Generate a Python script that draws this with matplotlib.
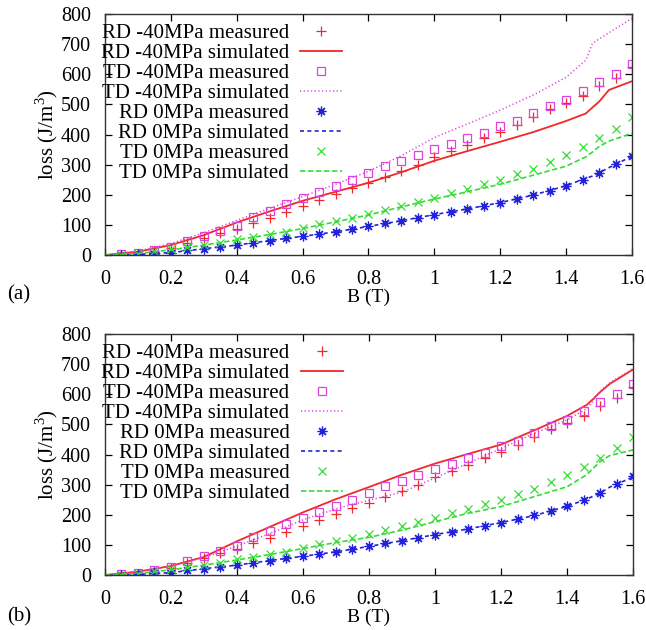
import matplotlib.pyplot as plt

plt.rcParams['font.family'] = ['Liberation Serif', 'DejaVu Serif']
plt.rcParams['mathtext.fontset'] = 'custom'
plt.rcParams['mathtext.rm'] = 'Liberation Serif'

# measured loss, same samples in both panels
B_meas = [0.05, 0.1, 0.15, 0.2, 0.25, 0.3, 0.35, 0.4, 0.45, 0.5, 0.55, 0.6, 0.65, 0.7, 0.75, 0.8,
          0.85, 0.9, 0.95, 1.0, 1.05, 1.1, 1.15, 1.2, 1.25, 1.3, 1.35, 1.4, 1.45, 1.5, 1.55, 1.6]
rd40_meas = [0, 4, 14, 23, 40, 56, 72, 86, 106, 122, 144, 162, 183, 203, 222, 240,
             260, 278, 298, 325, 345, 365, 387, 409, 431, 459, 485, 504, 528, 561, 587, 623]
td40_meas = [2, 6, 17, 28, 48, 63, 80, 96, 125, 147, 168, 189, 210, 230, 250, 273,
             295, 312, 332, 351, 368, 388, 406, 428, 446, 470, 494, 516, 545, 574, 600, 635]
rd0_meas = [0, 2, 5, 8, 16, 21, 28, 33, 41, 48, 55, 62, 69, 77, 86, 95,
            105, 114, 123, 134, 144, 153, 164, 174, 185, 199, 211, 230, 249, 273, 301, 328]
td0_meas = [1, 4, 13, 19, 25, 33, 41, 52, 59, 70, 78, 89, 103, 114, 124, 137,
            149, 163, 177, 188, 205, 219, 236, 249, 269, 285, 308, 332, 360, 387, 420, 457]

# simulated loss
B_sim = [0, 0.1, 0.2, 0.3, 0.4, 0.5, 0.6, 0.7, 0.8, 0.9, 1.0, 1.1, 1.2, 1.3, 1.4, 1.46, 1.48, 1.5, 1.53, 1.6]
# (a)
rd40_sim_a = [0, 11, 33, 66, 108, 145, 180, 210, 240, 275, 313, 345, 376, 408, 445, 470, 490, 509, 548, 577]
td40_sim_a = [0, 13, 38, 74, 115, 155, 194, 235, 278, 330, 390, 435, 481, 531, 590, 647, 703, 717, 738, 786]
rd0_sim_a = [0, 2, 8, 21, 33, 48, 62, 77, 95, 114, 134, 153, 174, 199, 230, 255, 262, 273, 290, 328]
td0_sim_a = [0, 5, 17, 33, 50, 68, 88, 110, 133, 160, 186, 210, 235, 265, 295, 326, 342, 360, 378, 404]
# (b)
rd40_sim_b = [0, 11, 30, 60, 112, 160, 208, 252, 292, 333, 370, 402, 433, 480, 528, 565, 585, 607, 635, 682]
td40_sim_b = [0, 12, 30, 58, 96, 138, 183, 220, 248, 275, 322, 371, 420, 470, 515, 552, 580, 610, 638, 686]
rd0_sim_b = [0, 2, 8, 21, 33, 48, 62, 77, 95, 114, 134, 153, 174, 197, 228, 252, 262, 272, 292, 325]
td0_sim_b = [0, 5, 17, 33, 50, 68, 88, 108, 125, 149, 177, 205, 227, 260, 293, 333, 355, 376, 397, 415]

red = '#f02828'
mag = '#dd44dd'
blue = '#2222dd'
green = '#33dd33'
fs = 15     # legend
tfs = 14    # ticks and axis labels


def draw(ax, sims):
    rd40, td40, rd0, td0 = sims
    ax.plot(B_meas, rd40_meas, ls='none', marker='+', ms=7, mew=0.9, color=red, label='RD -40MPa measured')
    ax.plot(B_sim, rd40, ls='-', lw=1.3, color=red, label='RD -40MPa simulated')
    ax.plot(B_meas, td40_meas, ls='none', marker='s', ms=6, mew=0.9, mfc='none', color=mag, label='TD -40MPa measured')
    ax.plot(B_sim, td40, ls=(0, (0.8, 1.6)), lw=1.1, color=mag, label='TD -40MPa simulated')
    ax.plot(B_meas, rd0_meas, ls='none', marker=(8, 2, 0), ms=7, mew=0.9, color=blue, label='RD 0MPa measured')
    ax.plot(B_sim, rd0, ls=(0, (2.4, 2.0)), lw=1.2, color=blue, label='RD 0MPa simulated')
    ax.plot(B_meas, td0_meas, ls='none', marker='x', ms=6, mew=0.9, color=green, label='TD 0MPa measured')
    ax.plot(B_sim, td0, ls=(0, (3.2, 1.6)), lw=1.2, color=green, label='TD 0MPa simulated')

    ax.set_xlim(0, 1.6)
    ax.set_ylim(0, 800)
    ax.set_xticks([0, 0.2, 0.4, 0.6, 0.8, 1.0, 1.2, 1.4, 1.6])
    ax.set_xticklabels(['0', '0.2', '0.4', '0.6', '0.8', '1', '1.2', '1.4', '1.6'])
    ax.set_yticks(range(0, 801, 100))
    ax.tick_params(direction='in', top=True, right=True, length=5, width=0.9,
                   labelsize=tfs + 0.5, pad=10)
    ax.tick_params(axis='x', pad=10.5)
    for s in ax.spines.values():
        s.set_linewidth(1.0)
        s.set_color('#333333')
    ax.set_xlabel('B (T)', fontsize=tfs, labelpad=0)
    ax.set_ylabel(r'loss (J/m$^{3}$)', fontsize=fs, labelpad=1)
    ax.legend(loc='upper right', bbox_to_anchor=(0.45, 0.96), frameon=False,
              markerfirst=False, fontsize=fs, handlelength=2.0, handletextpad=0.55,
              labelspacing=0.02, borderpad=0, borderaxespad=0, numpoints=1)


fig = plt.figure(figsize=(6.46, 6.30), dpi=100)
ax1 = fig.add_axes([0.1625, 0.5952, 0.8158, 0.3825])
ax2 = fig.add_axes([0.1625, 0.0873, 0.8174, 0.3825])
draw(ax1, (rd40_sim_a, td40_sim_a, rd0_sim_a, td0_sim_a))
draw(ax2, (rd40_sim_b, td40_sim_b, rd0_sim_b, td0_sim_b))

fig.text(0.011, 0.532, '(a)', fontsize=fs, va='center')
fig.text(0.011, 0.021, '(b)', fontsize=fs, va='center')

fig.savefig('out.png', dpi=100)
